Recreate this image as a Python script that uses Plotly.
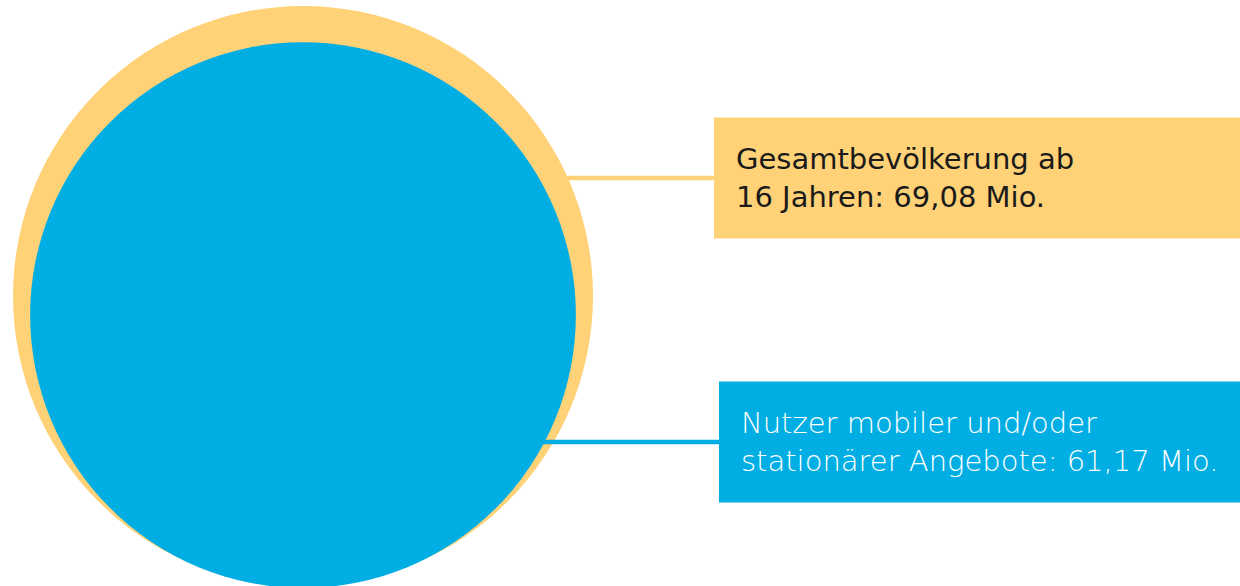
import math
import plotly.graph_objects as go

# Data
labels = ["Gesamtbevölkerung ab<br>16 Jahren: 69,08 Mio.",
          "Nutzer mobiler und/oder<br>stationärer Angebote: 61,17 Mio."]
values = [69.08, 61.17]  # Mio.
colors = ["#FFD278", "#00AEE4"]
text_colors = ["#1a1a1a", "#FFFFFF"]

W, H = 1240, 586
R_MAX = 290          # radius of largest circle in px
CX = 303             # circle centre x
BASE = 588           # circles are bottom-aligned at this y
LABEL_Y = [178, 442]
BOX_X0 = [714, 719]
BOX_H = 121
TEXT_PAD = 20

fig = go.Figure()
shapes = []
annotations = []

vmax = max(values)
geo = []
for v, c in zip(values, colors):
    r = R_MAX * math.sqrt(v / vmax)
    cy = BASE - r if v != vmax else BASE - 2 - r
    geo.append((r, cy))
    shapes.append(dict(type="circle", xref="x", yref="y",
                       x0=CX - r, x1=CX + r, y0=cy - r, y1=cy + r,
                       fillcolor=c, line=dict(width=0)))

for i, (lab, v) in enumerate(zip(labels, values)):
    r, cy = geo[i]
    ly = LABEL_Y[i]
    dx = math.sqrt(max(r * r - (ly - cy) ** 2, 0))
    shapes.append(dict(type="line", xref="x", yref="y",
                       x0=CX + dx - 2, x1=BOX_X0[i], y0=ly, y1=ly,
                       line=dict(color=colors[i], width=4.5)))
    shapes.append(dict(type="rect", xref="x", yref="y",
                       x0=BOX_X0[i], x1=W, y0=ly - BOX_H / 2, y1=ly + BOX_H / 2,
                       fillcolor=colors[i], line=dict(width=0)))
    annotations.append(dict(xref="x", yref="y", x=BOX_X0[i] + TEXT_PAD, y=ly,
                            text=lab, showarrow=False, xanchor="left", yanchor="middle",
                            align="left",
                            font=dict(family="DejaVu Sans", size=29,
                                      color=text_colors[i],
                                      weight=400 if i == 0 else 200)))

# invisible trace to anchor axes
fig.add_trace(go.Scatter(x=[0, W], y=[0, H], mode="markers",
                         marker=dict(opacity=0), hoverinfo="skip", showlegend=False))

fig.update_layout(
    width=W, height=H,
    margin=dict(l=0, r=0, t=0, b=0),
    paper_bgcolor="white", plot_bgcolor="white",
    shapes=shapes, annotations=annotations,
    xaxis=dict(range=[0, W], visible=False, fixedrange=True),
    yaxis=dict(range=[H, 0], visible=False, fixedrange=True),
    showlegend=False,
)

fig.write_html("out.html", config={"displayModeBar": False},
               post_script="document.body.style.margin='0';document.body.style.overflow='hidden';")
